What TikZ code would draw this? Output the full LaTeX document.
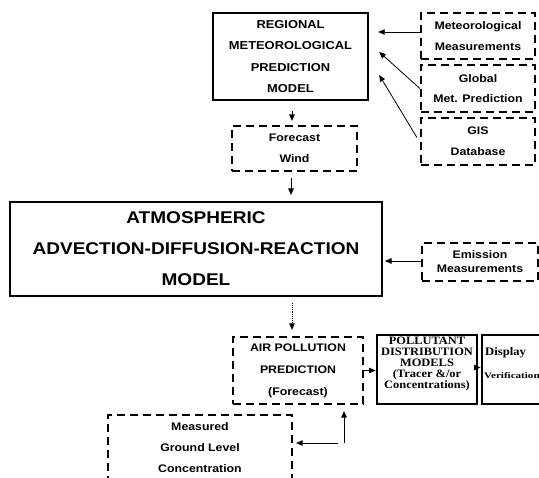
\documentclass[tikz,border=0pt]{standalone}
\usepackage{fontspec}
\usetikzlibrary{arrows.meta,calc}
\newfontfamily\arb[FakeStretch=1.12]{Liberation Sans}
\newfontfamily\tmb[FakeStretch=1.1]{Liberation Serif}
\begin{document}
\begin{tikzpicture}[x=1pt,y=-1pt,
 solidbox/.style={draw,line width=2.4pt,rectangle,inner sep=0pt,align=center},
 dashbox/.style={draw,line width=2.2pt,dash pattern=on 8pt off 5pt,rectangle,inner sep=0pt,align=center,
   font=\arb\bfseries\fontsize{11}{21}\selectfont},
 conn/.style={line width=0.8pt,-{Triangle[length=6.5pt,width=5.5pt]}},
 dotconn/.style={line width=0.9pt,densely dotted,-{Triangle[length=6.5pt,width=5.5pt]}},
]
\useasboundingbox (0,0) rectangle (539,478);
\clip (0,0) rectangle (539,478);
% boxes
\node[solidbox,minimum width=155pt,minimum height=87pt,font=\arb\bfseries\fontsize{11.5}{21.5}\selectfont] (regional) at (290.5,56.5)
  {REGIONAL\\METEOROLOGICAL\\PREDICTION\\MODEL};
\node[dashbox,minimum width=114pt,minimum height=46pt] (met) at (478,36) {Meteorological\\Measurements};
\node[dashbox,minimum width=114pt,minimum height=47pt,font=\arb\bfseries\fontsize{11}{20}\selectfont] (global) at (478,88.5) {Global\\Met. Prediction};
\node[dashbox,minimum width=114pt,minimum height=47pt] (gis) at (478,141.5) {GIS\\Database};
\node[dashbox,minimum width=125pt,minimum height=45pt] (forecast) at (294.5,148.5) {Forecast\\Wind};
\node[solidbox,line width=2pt,minimum width=372pt,minimum height=94pt,font=\arb\bfseries\fontsize{17}{31}\selectfont] (atmos) at (196,249)
  {ATMOSPHERIC\\ADVECTION-DIFFUSION-REACTION\\MODEL};
\node[dashbox,minimum width=116pt,minimum height=38pt,font=\arb\bfseries\fontsize{11}{14}\selectfont] (emission) at (480,262) {Emission\\Measurements};
\node[dashbox,minimum width=130pt,minimum height=67pt,font=\arb\bfseries\fontsize{11}{22}\selectfont] (airpol) at (298,370.5) {AIR POLLUTION\\PREDICTION\\(Forecast)};
\node[solidbox,line width=2.8pt,minimum width=100pt,minimum height=69pt] (poll) at (427,369.5) {};
\node[font=\tmb\bfseries\fontsize{11.3}{11}\selectfont,align=center,inner sep=0pt] (pollT) at ($(poll.center)+(0,-6)$)
  {POLLUTANT\\DISTRIBUTION\\MODELS\\(Tracer \&/or\\Concentrations)};
\node[solidbox,line width=2.8pt,minimum width=78pt,minimum height=69pt] (display) at (521,369.5) {};
\node[font=\tmb\bfseries\fontsize{11.5}{12}\selectfont,anchor=west,inner sep=0pt] (dispA) at (485,353) {Display};
\node[font=\tmb\bfseries\fontsize{8.5}{9}\selectfont\addfontfeature{FakeStretch=1.3},anchor=west,inner sep=0pt] (dispB) at (484,376) {Verification};
\node[dashbox,minimum width=184pt,minimum height=65pt] (meas) at (200,447.5) {Measured\\Ground Level\\Concentration};
\coordinate (junc) at (344,443);
% connectors
\draw[conn] ($(met.west)+(0,-4)$) -- ($(regional.east |- met.west)+(9,-4)$);
\draw[conn] (global.west) -- ($(regional.east)+(10,-4.5)$);
\draw[conn] ($(gis.west)+(-3,-4)$) -- ($(regional.east)+(10,18.5)$);
\draw[conn] ($(regional.south)+(1.5,10)$) -- ($(regional.south |- forecast.north)+(1.5,-4)$);
\draw[conn] ($(forecast.south)+(-3.5,6)$) -- ($(forecast.south |- atmos.north)+(-3.5,-6)$);
\draw[conn,line width=0.6pt] ($(emission.west)+(0,-1)$) -- ($(atmos.east |- emission.west)+(2,-1)$);
\draw[dotconn] ($(atmos.south)+(96,6)$) -- ($(airpol.north)+(-6,-6)$);
\draw[conn] (airpol.east) -- (airpol.east -| poll.west);
\draw[conn] ($(poll.east)+(0,-2)$) -- ($(display.west)+(0,-2)$);
\draw[conn,line width=1pt] (junc) -- ($(junc |- airpol.south)+(0,6)$);
\draw[conn] ($(junc)+(-6,0)$) -- ($(junc -| meas.east)+(3,0)$);
\end{tikzpicture}
\end{document}
